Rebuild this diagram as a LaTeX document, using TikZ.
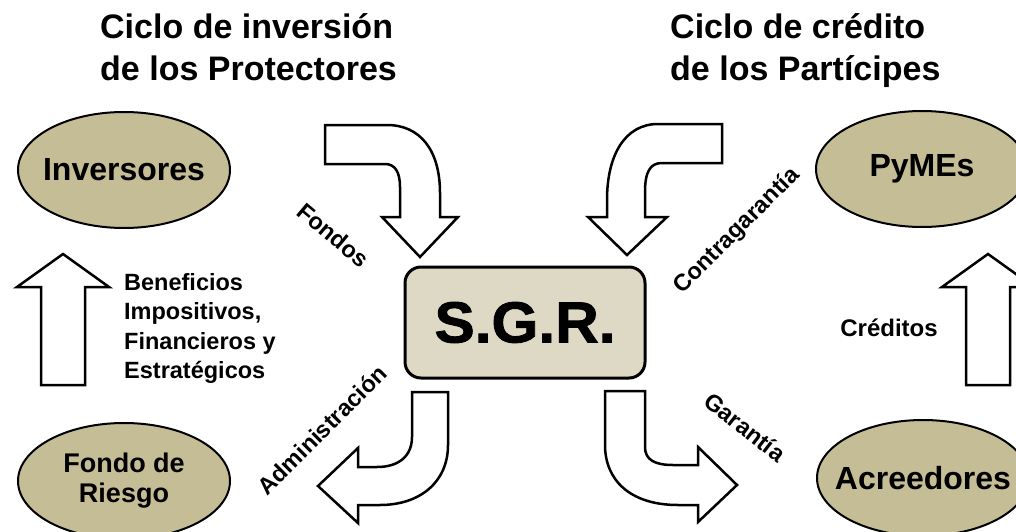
\documentclass[tikz,border=0pt]{standalone}
\usepackage{fontspec}
\setmainfont{Liberation Sans}
\usepgflibrary{shapes.geometric}
\definecolor{ovalfill}{RGB}{196,189,150}
\definecolor{boxfill}{RGB}{221,217,196}
\def\bigup#1{
  % 1: x of the tip
  \begin{scope}[shift={(#1,0)}]
    \draw[line width=2.5pt,fill=white,line join=miter] (-22,385) -- (-22,287) -- (-46,287) -- (0,254) -- (46,287) -- (22,287) -- (22,385) -- cycle;
  \end{scope}
}

\begin{document}
\begin{tikzpicture}[x=1pt,y=-1pt,
    oval/.style={ellipse,draw,line width=2pt,fill=ovalfill,minimum width=212pt,minimum height=116pt,inner sep=0pt},
    ovaltext/.style={font=\bfseries\fontsize{32}{34}\selectfont,inner sep=0pt,align=center},
    lbl/.style={font=\bfseries\fontsize{23.5}{24}\selectfont,inner sep=0pt},
    title/.style={font=\bfseries\fontsize{34}{42}\selectfont,align=left,anchor=north west,inner sep=0pt},
    block/.style={line width=2.5pt,fill=white,line join=miter}]
  \useasboundingbox (0,0) rectangle (1016,532);
  \clip (0,0) rectangle (1016,532);

  % titles
  \node[title] (tl) at (100,13) {Ciclo de inversión\\de los Protectores};
  \node[title] (tr) at (670,13) {Ciclo de crédito\\de los Partícipes};

  % actors
  \node[oval,label={[ovaltext]center:Inversores}] (inv) at (124,170) {};
  \node[oval,label={[ovaltext]center:PyMEs}] (pym) at (922,169) {};
  \node[oval,label={[ovaltext,font=\bfseries\fontsize{27}{30}\selectfont]center:Fondo de\\Riesgo}] (fdr) at (124,481) {};
  \node[oval,label={[ovaltext]center:Acreedores}] (acr) at (923,478) {};

  \node[draw,line width=3pt,fill=boxfill,rounded corners=16pt,minimum width=240pt,minimum height=111pt,font=\bfseries\fontsize{58}{60}\selectfont\addfontfeatures{FakeBold=1.5,FakeStretch=1.04}] (sgr) at (525,322.5) {S.G.R.};

  % block arrows
  \draw[block] (325,125) -- (387,125) .. controls (420,125) and (440,150) .. (440,193) -- (440,217) -- (458,217) -- (420,257) -- (382,217) -- (400,217) -- (400,187) .. controls (400,172) and (395,164) .. (385,164) -- (325,164) -- cycle;
  \draw[block] (722,124) -- (658,124) .. controls (625,124) and (607,155) .. (607,200) -- (607,217) -- (588,217) -- (627,255) -- (667,217) -- (645,217) -- (645,192) .. controls (645,172) and (650,163) .. (662,163) -- (722,163) -- cycle;
  \draw[block] (412,392) -- (448,392) -- (448,445) .. controls (448,482) and (420,505) .. (380,505) -- (358,505) -- (358,523) -- (318,486) -- (358,448) -- (358,467) -- (377,467) .. controls (400,467) and (412,455) .. (412,437) -- cycle;
  \draw[block] (605,391) -- (645,391) -- (645,447) .. controls (645,460) and (655,465) .. (673,465) -- (698,465) -- (698,447) -- (737,485) -- (698,522) -- (698,505) -- (678,505) .. controls (630,505) and (605,480) .. (605,445) -- cycle;
  \bigup{63}
  \bigup{988}

  % labels
  \node[lbl,rotate=-40] (fon) at (333,235) {Fondos};
  \node[lbl,rotate=45] (cga) at (737,231) {Contragarantía};
  \node[lbl,rotate=45] (adm) at (322,430) {Administración};
  \node[lbl,rotate=-38] (gar) at (745,427) {Garantía};
  \node[lbl,align=left,anchor=north west,font=\bfseries\fontsize{23.5}{29.5}\selectfont] (ben) at (124,273) {Beneficios\\Impositivos,\\Financieros y\\Estratégicos};
  \node[lbl,font=\bfseries\fontsize{24}{26}\selectfont] (cre) at (889,328) {Créditos};
\end{tikzpicture}
\end{document}
